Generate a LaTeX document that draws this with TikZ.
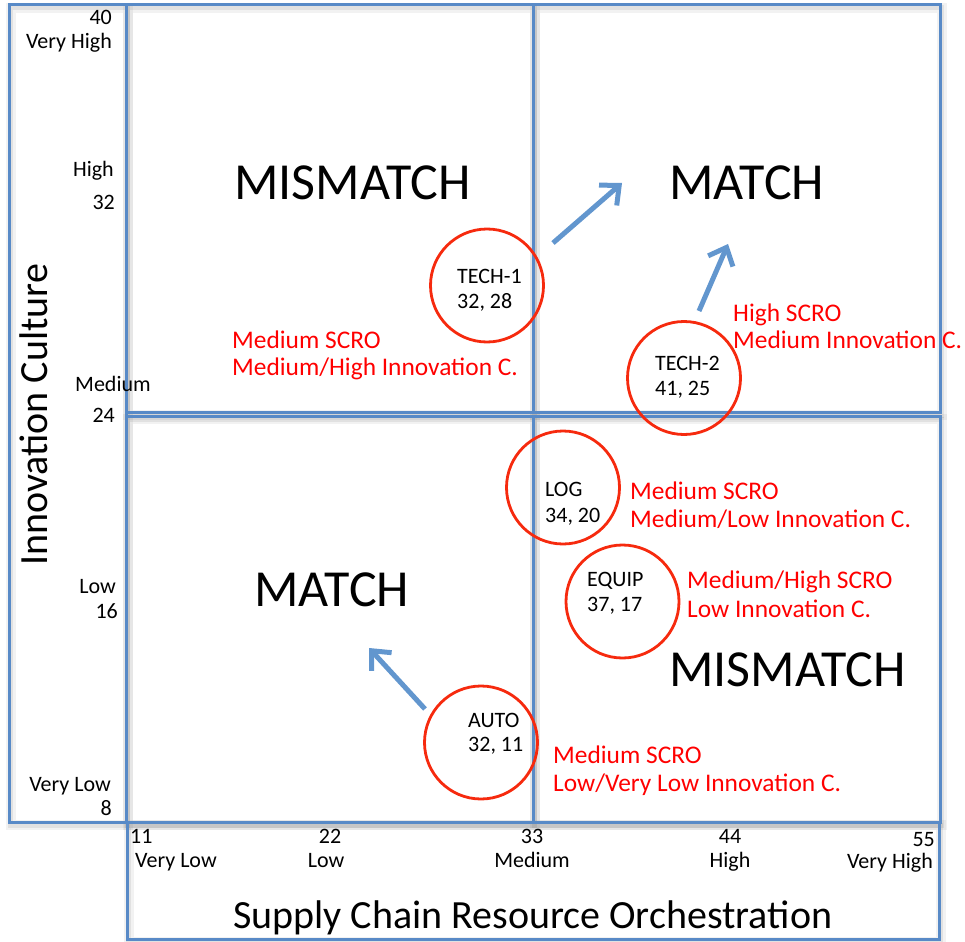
\documentclass[tikz,border=0pt]{standalone}
\usepackage{fontspec}
\setmainfont{Carlito}
\usetikzlibrary{arrows.meta}

\definecolor{frameblue}{RGB}{88,138,199}
\definecolor{arrowblue}{RGB}{98,150,206}
\definecolor{ringred}{RGB}{246,42,14}
\definecolor{notered}{RGB}{255,0,0}

\tikzset{
  panelshade/.style={draw=black, draw opacity=0.05, line width=10pt,
    preaction={draw=black, draw opacity=0.07, line width=5pt}},
  panel/.style={draw=frameblue, line width=3pt},
  ring/.style={circle, draw=ringred, line width=2.8pt, minimum size=113pt, inner sep=0pt},
  tag/.style={font=\fontsize{22}{26}\selectfont, inner sep=0pt},
  note/.style={text=notered, font=\fontsize{25.4}{28}\selectfont, inner sep=0pt},
  zone/.style={font=\fontsize{52}{60}\selectfont, inner sep=0pt},
  axistitle/.style={font=\fontsize{40}{48}\selectfont, inner sep=0pt},
  shiftarrow/.style={draw=arrowblue, line width=5pt, -{Straight Barb[length=15pt,width=27pt]}},
}

\begin{document}
\begin{tikzpicture}[x=1pt, y=-1pt]
\useasboundingbox (0,0) rectangle (965,941);

% frames: soft shadow first, then the blue outlines
\foreach \xa/\ya/\xb/\yb in {9/5/126/822, 127/822/939/939, 126/5/533/412,
                             533/5/940/412, 126/416/533/822, 533/416/940/822}{
  \draw[panelshade] (\xa+1.5,\ya+3) rectangle (\xb+1.5,\yb+3);
}
\foreach \xa/\ya/\xb/\yb in {9/5/126/822, 127/822/939/939, 126/5/533/412,
                             533/5/940/412, 126/416/533/822, 533/416/940/822}{
  \draw[panel] (\xa,\ya) rectangle (\xb,\yb);
}

% quadrant headings
\node[zone, anchor=base west] (mis1) at (234,200) {MISMATCH};
\node[zone, anchor=base west] (mat1) at (669,200) {MATCH};
\node[zone, anchor=base west] (mat2) at (254,606) {MATCH};
\node[zone, anchor=base west] (mis2) at (669,686) {MISMATCH};

% vertical axis scale
\node[tag, anchor=base east] (y40)  at (112,25)  {40};
\node[tag, anchor=base east] (y40t) at (112,49)  {Very High};
\node[tag, anchor=base east] (y32t) at (114,177) {High};
\node[tag, anchor=base east] (y32)  at (115,210) {32};
\node[tag, anchor=base west] (y24t) at (75,391)  {Medium};
\node[tag, anchor=base east] (y24)  at (115,422) {24};
\node[tag, anchor=base east] (y16t) at (116,593) {Low};
\node[tag, anchor=base east] (y16)  at (118,618) {16};
\node[tag, anchor=base east] (y8t)  at (111,791) {Very Low};
\node[tag, anchor=base east] (y8)   at (112,815) {8};

% horizontal axis scale
\node[tag, anchor=base west] (x11)  at (130,843) {11};
\node[tag, anchor=base west] (x11t) at (135,867) {Very Low};
\node[tag, anchor=base] (x22)  at (330,843) {22};
\node[tag, anchor=base] (x22t) at (326,867) {Low};
\node[tag, anchor=base] (x33)  at (532,843) {33};
\node[tag, anchor=base] (x33t) at (532,867) {Medium};
\node[tag, anchor=base] (x44)  at (730,843) {44};
\node[tag, anchor=base] (x44t) at (730,867) {High};
\node[tag, anchor=base east] (x55)  at (935,846) {55};
\node[tag, anchor=base east] (x55t) at (933,868) {Very High};

% axis titles
\node[axistitle, anchor=base west, rotate=90] (ytitle) at (47,566) {Innovation Culture};
\node[axistitle, anchor=base west] (xtitle) at (233,928) {Supply Chain Resource Orchestration};

% industry circles
\node[ring] (tech1) at (487,285.5) {};
\node[ring] (tech2) at (684,378) {};
\node[ring] (log)   at (563,487.5) {};
\node[ring] (equip) at (622.5,601.5) {};
\node[ring] (auto)  at (481,742.5) {};

\node[tag, anchor=base west] (tech1a) at (457,283) {TECH-1};
\node[tag, anchor=base west] (tech1b) at (457,308) {32, 28};
\node[tag, anchor=base west] (tech2a) at (655,370) {TECH-2};
\node[tag, anchor=base west] (tech2b) at (655,395) {41, 25};
\node[tag, anchor=base west] (loga)   at (545,496) {LOG};
\node[tag, anchor=base west] (logb)   at (545,522) {34, 20};
\node[tag, anchor=base west] (equipa) at (587,586) {EQUIP};
\node[tag, anchor=base west] (equipb) at (587,611) {37, 17};
\node[tag, anchor=base west] (autoa)  at (468,727) {AUTO};
\node[tag, anchor=base west] (autob)  at (468,751) {32, 11};

% red descriptions
\node[note, anchor=base west] (n1a) at (232,348) {Medium SCRO};
\node[note, anchor=base west] (n1b) at (232,375) {Medium/High Innovation C.};
\node[note, anchor=base west] (n2a) at (733,321) {High SCRO};
\node[note, anchor=base west] (n2b) at (733,348) {Medium Innovation C.};
\node[note, anchor=base west] (n3a) at (630,499) {Medium SCRO};
\node[note, anchor=base west] (n3b) at (630,527) {Medium/Low Innovation C.};
\node[note, anchor=base west] (n4a) at (687,588) {Medium/High SCRO};
\node[note, anchor=base west] (n4b) at (687,617) {Low Innovation C.};
\node[note, anchor=base west] (n5a) at (553,763) {Medium SCRO};
\node[note, anchor=base west] (n5b) at (553,791) {Low/Very Low Innovation C.};

% movement arrows
\coordinate (a1s) at (553,243);
\coordinate (a1e) at (622,183);
\coordinate (a2s) at (699,311);
\coordinate (a2e) at (728,244);
\coordinate (a3s) at (425,709);
\coordinate (a3e) at (369,648);
\draw[shiftarrow] (a1s) -- (a1e);
\draw[shiftarrow] (a2s) -- (a2e);
\draw[shiftarrow] (a3s) -- (a3e);
\end{tikzpicture}
\end{document}
